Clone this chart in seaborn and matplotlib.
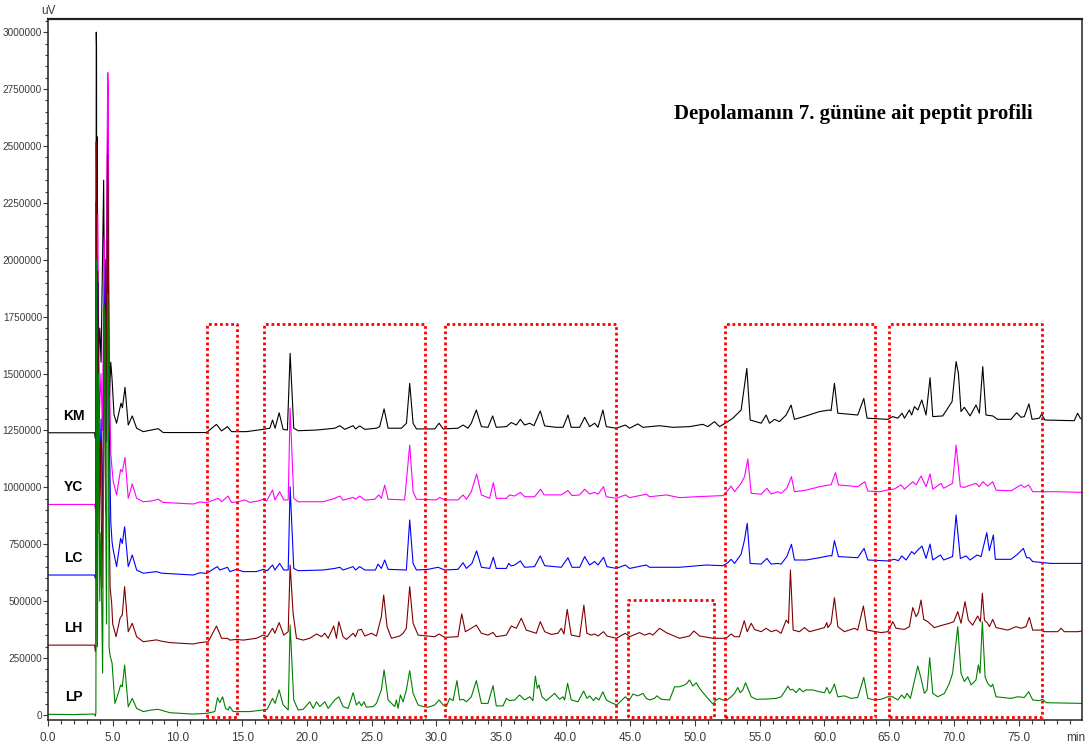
import numpy as np
import pandas as pd
import matplotlib
matplotlib.use("Agg")
import matplotlib.pyplot as plt
from matplotlib import font_manager
from matplotlib.ticker import MultipleLocator, FixedLocator, FixedFormatter
import seaborn as sns

# ---------------------------------------------------------------- data
# retention time (min) / detector signal (x1000 uV) vertices of each trace

km_t = [0, 3.60, 3.66, 3.70, 3.73, 3.75, 3.77, 3.80, 3.84, 4.00, 4.10, 4.30, 4.40, 4.55, 4.62, 4.68, 4.75,
        4.85, 4.95, 5.10, 5.30, 5.64, 5.75, 5.95, 6.20, 6.51, 6.85, 7.36, 8.52, 8.90, 12.25, 13.02, 13.41,
        13.87, 14.18, 15.34, 16.63, 17.14, 17.35, 17.55, 17.86, 18.17, 18.50, 18.71, 18.99, 19.33, 20.75,
        22.16, 22.55, 22.93, 23.58, 23.76, 24.09, 24.48, 25.38, 25.63, 25.97, 26.28, 27.31, 27.70, 27.95,
        28.21, 28.47, 29.88, 30.22, 30.53, 31.68, 32.07, 32.45, 32.71, 33.10, 33.49, 34.00, 34.36, 34.64,
        35.42, 35.80, 36.19, 36.50, 36.83, 37.22, 37.55, 38.04, 38.38, 39.28, 39.80, 40.18, 40.43, 41.08,
        41.47, 41.85, 42.24, 42.50, 42.88, 43.14, 43.91, 44.61, 44.94, 45.58, 45.97, 47.26, 48.29, 49.57,
        50.60, 50.99, 51.50, 51.89, 52.53, 52.92, 53.56, 54.00, 54.26, 55.11, 55.49, 55.75, 56.14, 56.52,
        57.04, 57.42, 57.68, 58.58, 59.61, 60.39, 60.51, 60.77, 61.03, 62.57, 63.04, 63.29, 64.89, 65.28,
        65.66, 66.00, 66.18, 66.56, 66.74, 66.95, 67.21, 67.52, 67.85, 68.16, 68.37, 69.14, 69.86, 70.17,
        70.35, 70.55, 70.81, 71.25, 71.71, 71.97, 72.23, 72.48, 73.00, 73.38, 74.41, 74.85, 75.19, 75.44,
        75.80, 76.04, 76.60, 76.78, 77.04, 79.30, 79.56, 79.77, 79.90]
km_v = [1240, 1240, 1215, 1230, 3000, 2940, 1600, 2540, 1500, 1700, 1550, 2350, 1500, 1900, 2700, 1800, 1400,
        1550, 1476, 1320, 1282, 1370, 1350, 1440, 1274, 1314, 1260, 1245, 1258, 1241, 1241, 1277, 1248,
        1267, 1245, 1245, 1255, 1260, 1296, 1260, 1328, 1255, 1252, 1589, 1260, 1249, 1252,
        1260, 1271, 1255, 1271, 1257, 1270, 1255, 1260, 1267, 1345, 1260, 1260, 1282, 1457,
        1282, 1257, 1257, 1282, 1257, 1260, 1274, 1260, 1282, 1340, 1267, 1264, 1314, 1264,
        1267, 1285, 1274, 1299, 1274, 1282, 1271, 1336, 1270, 1264, 1264, 1318, 1264, 1264,
        1308, 1267, 1282, 1264, 1340, 1267, 1260, 1274, 1260, 1279, 1264, 1271, 1264, 1267,
        1277, 1267, 1289, 1267, 1289, 1304, 1340, 1523, 1296, 1282, 1318, 1282, 1299, 1289,
        1318, 1362, 1299, 1314, 1333, 1340, 1337, 1457, 1326, 1318, 1391, 1304, 1299, 1311,
        1304, 1326, 1304, 1340, 1318, 1355, 1340, 1384, 1318, 1482, 1311, 1314, 1377, 1553,
        1501, 1333, 1352, 1314, 1362, 1326, 1531, 1318, 1314, 1299, 1299, 1328, 1308, 1311,
        1367, 1299, 1304, 1322, 1296, 1293, 1326, 1304, 1300]

yc_t = [0, 3.60, 3.66, 3.70, 3.73, 3.75, 3.78, 3.85, 3.95, 4.10, 4.20, 4.35, 4.45, 4.55, 4.62, 4.66, 4.72,
        4.85, 4.95, 5.04, 5.30, 5.61, 5.74, 5.95, 6.20, 6.51, 6.85, 7.36, 8.00, 8.52, 8.90, 11.22, 11.74,
        12.25, 13.15, 13.41, 13.92, 14.18, 14.70, 15.20, 15.60, 16.37, 16.63, 16.89, 17.35, 17.53, 17.90,
        18.22, 18.56, 18.71, 18.99, 19.33, 21.26, 22.16, 22.55, 22.80, 23.58, 23.76, 24.09, 24.48, 25.25,
        25.56, 25.76, 26.02, 26.28, 27.56, 27.95, 28.21, 28.47, 30.01, 30.27, 30.65, 31.68, 32.07, 32.33,
        32.71, 33.12, 33.49, 34.13, 34.41, 34.64, 35.42, 35.67, 36.06, 36.50, 36.83, 37.60, 38.07, 38.33,
        39.66, 40.18, 40.49, 41.08, 41.47, 41.85, 42.24, 42.50, 42.93, 43.14, 43.91, 44.61, 44.94, 46.23,
        46.49, 47.77, 48.80, 50.09, 52.15, 52.41, 52.79, 53.05, 53.56, 53.82, 54.08, 54.34, 55.11, 55.55,
        55.88, 56.40, 56.65, 57.09, 57.45, 57.68, 58.58, 59.61, 60.39, 60.51, 60.85, 61.08, 62.57, 63.11,
        63.35, 64.25, 64.89, 65.41, 65.92, 66.18, 66.82, 67.08, 67.46, 67.85, 68.16, 68.37, 69.00, 69.21,
        69.52, 69.90, 70.17, 70.50, 70.81, 71.07, 71.71, 71.97, 72.23, 72.61, 73.00, 73.26, 74.41, 75.19,
        75.44, 75.78, 76.09, 78.02, 79.90]
yc_v = [925, 925, 905, 920, 2513, 2300, 1400, 2200, 1300, 1500, 1250, 2100, 1400, 2400, 2822, 2750, 1600,
        1150, 1080, 1025, 967, 1079, 1069, 1132, 952, 1015, 952, 937, 940, 948, 934, 927, 936,
        933, 952, 937, 962, 934, 937, 945, 934, 942, 948, 940, 989, 945, 981,
        945, 945, 1348, 952, 937, 937, 952, 962, 944, 956, 948, 962, 944, 948,
        967, 952, 1010, 948, 945, 1186, 981, 948, 945, 956, 945, 945, 967, 948,
        981, 1059, 967, 952, 1021, 952, 952, 967, 962, 978, 959, 959, 992, 967,
        967, 986, 964, 967, 992, 971, 978, 970, 1003, 959, 952, 967, 955, 970,
        959, 967, 955, 959, 964, 978, 1006, 981, 1018, 1047, 1125, 974, 970, 996,
        971, 981, 974, 996, 1047, 981, 988, 1003, 1011, 1011, 1065, 1011, 1003, 1025,
        984, 981, 989, 993, 1011, 992, 1025, 1011, 1050, 1003, 1059, 992, 1018, 996,
        1006, 1018, 1186, 1003, 1000, 1006, 1018, 1003, 1025, 1006, 1025, 988, 985, 1011,
        1000, 1011, 981, 981, 978]

lc_t = [0, 3.60, 3.66, 3.70, 3.73, 3.75, 3.78, 3.88, 3.98, 4.10, 4.22, 4.35, 4.45, 4.52, 4.62, 4.66, 4.72,
        4.85, 4.95, 5.04, 5.30, 5.61, 5.74, 5.92, 6.20, 6.51, 6.85, 7.36, 8.39, 8.78, 11.22, 11.74, 12.25,
        13.08, 13.28, 13.87, 14.05, 14.57, 15.08, 16.10, 16.63, 16.94, 17.35, 17.53, 17.90, 18.22, 18.56,
        18.71, 18.99, 19.33, 21.26, 22.16, 22.55, 22.80, 23.58, 23.76, 24.09, 24.48, 25.30, 25.50, 25.76,
        26.02, 26.28, 27.69, 27.95, 28.21, 28.47, 29.37, 30.14, 30.65, 31.68, 32.07, 32.33, 32.76, 33.12,
        33.49, 34.13, 34.41, 34.64, 35.42, 35.60, 35.80, 36.06, 36.50, 36.83, 37.60, 38.04, 38.38, 39.66,
        40.18, 40.49, 41.08, 41.47, 41.85, 42.24, 42.50, 42.93, 43.19, 43.91, 44.61, 44.94, 46.23, 46.49,
        48.80, 50.09, 50.86, 52.15, 52.53, 52.79, 53.05, 53.56, 53.82, 54.03, 54.26, 55.11, 55.55, 55.88,
        56.40, 56.65, 57.09, 57.45, 57.68, 58.58, 59.61, 60.39, 60.57, 60.77, 61.08, 62.57, 63.06, 63.35,
        64.89, 65.41, 65.71, 65.97, 66.31, 66.74, 66.95, 67.21, 67.54, 67.85, 68.16, 68.37, 68.96, 69.21,
        69.90, 70.17, 70.50, 70.94, 71.25, 71.79, 72.10, 72.54, 72.74, 73.05, 73.20, 74.41, 74.93, 75.37,
        75.62, 75.83, 76.09, 77.50, 79.90]
lc_v = [615, 615, 600, 610, 2255, 2000, 900, 1900, 1000, 1300, 860, 1700, 2000, 1200, 2220, 2100, 1300,
        850, 760, 725, 652, 776, 754, 827, 652, 703, 637, 623, 630, 623, 615, 625, 622,
        652, 637, 649, 630, 640, 630, 630, 640, 634, 659, 637, 666, 637, 637,
        1003, 644, 634, 637, 644, 649, 637, 652, 637, 652, 637, 637, 663, 644,
        681, 640, 637, 857, 666, 637, 640, 649, 637, 640, 669, 644, 666, 721,
        649, 644, 693, 644, 644, 666, 655, 659, 677, 649, 652, 699, 656, 649,
        691, 649, 649, 696, 659, 674, 659, 693, 652, 644, 659, 644, 659, 649,
        649, 655, 659, 656, 669, 684, 666, 707, 769, 842, 666, 663, 688, 663,
        666, 663, 696, 750, 681, 681, 691, 700, 699, 766, 696, 691, 732, 681,
        677, 684, 678, 699, 681, 718, 707, 725, 742, 688, 751, 681, 703, 681,
        696, 879, 688, 699, 681, 703, 696, 801, 722, 791, 684, 684, 707, 732,
        691, 691, 674, 666, 666]

lh_t = [0, 3.60, 3.66, 3.70, 3.73, 3.75, 3.78, 3.85, 3.95, 4.05, 4.18, 4.35, 4.45, 4.55, 4.60, 4.65, 4.72,
        4.80, 4.92, 5.00, 5.26, 5.57, 5.74, 5.92, 6.20, 6.51, 6.85, 7.36, 8.39, 8.70, 9.42, 11.22, 11.74,
        12.38, 13.02, 13.41, 13.87, 14.05, 14.57, 15.08, 16.10, 16.63, 16.94, 17.35, 17.53, 17.86, 18.22,
        18.56, 18.71, 18.94, 19.20, 19.72, 20.23, 20.75, 21.13, 21.39, 21.65, 22.08, 22.29, 22.47, 22.80,
        23.06, 23.58, 23.76, 23.96, 24.22, 24.48, 24.99, 25.38, 25.76, 25.94, 26.20, 26.54, 27.18, 27.44,
        27.69, 27.95, 28.21, 28.60, 29.88, 30.22, 30.65, 31.68, 31.97, 32.25, 32.71, 33.10, 33.49, 34.00,
        34.39, 34.64, 35.42, 35.80, 36.19, 36.57, 36.96, 37.35, 37.73, 38.04, 38.38, 38.89, 39.40, 39.66,
        39.87, 40.12, 40.43, 41.08, 41.41, 41.64, 41.98, 42.24, 42.50, 42.93, 43.19, 43.91, 44.61, 44.94,
        45.71, 46.10, 46.49, 46.74, 47.26, 47.77, 48.80, 49.57, 49.91, 50.35, 51.38, 52.41, 52.79, 53.05,
        53.43, 53.80, 54.03, 54.34, 54.59, 55.11, 55.49, 55.88, 56.27, 56.65, 57.04, 57.22, 57.37, 57.58,
        58.07, 58.45, 58.84, 60.00, 60.18, 60.26, 60.51, 60.77, 61.03, 61.54, 62.32, 62.57, 63.01, 63.29,
        64.38, 64.89, 65.28, 65.53, 66.18, 66.56, 66.82, 67.08, 67.26, 67.46, 67.67, 67.98, 68.49, 69.14,
        69.65, 69.99, 70.30, 70.55, 70.86, 71.12, 71.45, 71.84, 72.05, 72.20, 72.36, 72.61, 72.74, 73.00,
        73.26, 74.16, 74.80, 75.19, 75.57, 75.83, 76.09, 76.73, 76.99, 78.02, 78.28, 78.53, 79.56, 79.90]
lh_v = [307, 307, 280, 300, 2520, 2400, 700, 1950, 800, 1200, 560, 1800, 900, 2000, 2460, 2300, 900,
        560, 491, 400, 344, 426, 440, 564, 366, 403, 344, 322, 330, 325, 318, 312, 318,
        322, 391, 337, 337, 329, 332, 329, 337, 351, 344, 381, 359, 406, 351,
        366, 659, 447, 337, 329, 337, 356, 344, 359, 337, 391, 337, 410, 344,
        332, 359, 344, 373, 376, 347, 359, 347, 432, 527, 388, 337, 347, 359,
        381, 564, 403, 351, 344, 356, 341, 344, 444, 366, 381, 395, 359, 351,
        363, 344, 351, 391, 381, 425, 373, 366, 359, 410, 366, 354, 359, 381,
        356, 464, 351, 344, 483, 359, 351, 356, 347, 366, 347, 337, 359, 344,
        362, 351, 359, 351, 381, 362, 337, 347, 369, 347, 337, 337, 356, 344,
        344, 414, 366, 403, 376, 366, 381, 366, 373, 359, 417, 403, 637, 373,
        366, 384, 366, 384, 406, 384, 403, 515, 388, 366, 381, 373, 479, 373,
        362, 366, 410, 381, 376, 388, 472, 432, 450, 505, 420, 410, 384, 395,
        403, 410, 454, 403, 498, 417, 395, 435, 410, 535, 417, 403, 388, 420,
        384, 373, 388, 381, 388, 429, 373, 373, 366, 366, 381, 366, 366, 369]

lp_t = [0, 2.00, 3.55, 3.62, 3.66, 3.70, 3.75, 3.78, 3.82, 3.90, 4.00, 4.08, 4.22, 4.35, 4.45, 4.52, 4.60,
        4.66, 4.72, 4.80, 4.95, 5.17, 5.43, 5.61, 5.74, 5.92, 6.20, 6.51, 6.85, 7.36, 8.00, 8.52, 9.42,
        11.22, 12.25, 12.89, 13.10, 13.28, 13.49, 13.72, 13.92, 14.05, 14.31, 15.60, 16.63, 16.94, 17.35,
        17.55, 17.86, 18.17, 18.56, 18.71, 18.99, 19.33, 19.72, 20.23, 20.49, 20.75, 21.00, 21.39, 21.65,
        22.16, 22.47, 22.80, 23.19, 23.58, 23.83, 24.04, 24.22, 24.42, 24.60, 25.12, 25.38, 25.76, 25.97,
        26.28, 26.79, 26.92, 27.05, 27.23, 27.44, 27.69, 27.95, 28.21, 28.60, 28.98, 29.37, 29.88, 30.22,
        30.53, 30.78, 31.04, 31.30, 31.60, 31.81, 32.07, 32.33, 32.71, 33.10, 33.49, 34.00, 34.39, 34.64,
        35.16, 35.42, 35.67, 36.06, 36.44, 36.83, 37.22, 37.47, 37.66, 37.81, 37.94, 38.17, 38.50, 39.15,
        39.53, 39.79, 39.92, 40.15, 40.43, 40.95, 41.39, 41.65, 41.85, 42.16, 42.32, 42.57, 42.88, 43.14,
        43.65, 43.96, 44.30, 44.61, 44.89, 45.20, 45.58, 45.97, 46.23, 46.49, 46.87, 47.05, 47.39, 48.03,
        48.42, 48.80, 49.19, 49.37, 49.57, 49.83, 50.09, 50.35, 50.66, 50.99, 51.38, 51.63, 51.89, 52.15,
        52.41, 52.79, 53.05, 53.30, 53.49, 53.69, 53.90, 54.08, 54.34, 54.72, 55.49, 56.27, 56.65, 56.91,
        57.17, 57.35, 57.55, 57.81, 58.07, 58.33, 58.58, 59.10, 59.61, 60.00, 60.18, 60.39, 60.51, 60.77,
        61.03, 61.54, 62.06, 62.57, 63.04, 63.35, 63.86, 64.38, 64.89, 65.28, 65.66, 65.97, 66.18, 66.38,
        66.64, 67.21, 67.46, 67.72, 67.93, 68.13, 68.37, 68.75, 69.27, 69.65, 69.90, 70.30, 70.55, 70.81,
        71.07, 71.33, 71.71, 71.89, 72.02, 72.20, 72.41, 72.61, 72.87, 73.00, 73.26, 74.41, 74.93, 75.44,
        75.78, 76.09, 76.60, 76.86, 77.12, 79.90]
lp_v = [3, 2, 4, 2, -5, 10, 2000, 1700, 300, 1500, 500, 800, 184, 1800, 1000, 400, 1850,
        1700, 300, 260, 228, 51, 95, 132, 124, 220, 36, 73, 29, 15, 22, 25, 10,
        4, 7, 15, 76, 54, 80, 29, 22, 37, 15, 15, 22, 25, 73,
        51, 110, 44, 22, 395, 66, 22, 25, 58, 29, 58, 37, 58, 29,
        66, 80, 37, 29, 98, 44, 58, 40, 58, 34, 37, 51, 110, 198,
        66, 37, 66, 29, 88, 58, 110, 195, 95, 44, 37, 34, 44, 66,
        44, 37, 73, 63, 151, 66, 69, 58, 80, 151, 51, 51, 129, 40,
        40, 73, 63, 66, 88, 66, 80, 63, 171, 117, 132, 80, 63, 95,
        69, 80, 66, 139, 66, 58, 105, 73, 84, 63, 77, 66, 102, 66,
        51, 44, 63, 80, 63, 92, 84, 95, 73, 66, 73, 84, 69, 66,
        124, 124, 132, 139, 154, 127, 142, 117, 95, 73, 48, 66, 73, 66,
        63, 80, 95, 121, 98, 110, 142, 117, 80, 69, 70, 73, 80, 102,
        127, 110, 113, 98, 117, 102, 110, 110, 102, 98, 121, 95, 103, 136,
        80, 84, 73, 77, 165, 73, 66, 69, 80, 80, 66, 88, 73, 95,
        73, 215, 161, 95, 110, 252, 95, 80, 95, 139, 183, 388, 183, 147,
        168, 132, 154, 220, 183, 410, 168, 139, 124, 135, 80, 73, 80, 77,
        102, 66, 63, 69, 54, 51]

samples = ["KM", "YC", "LC", "LH", "LP"]
times = [km_t, yc_t, lc_t, lh_t, lp_t]
signals = [km_v, yc_v, lc_v, lh_v, lp_v]
colors = ["#000000", "#ff00ff", "#0000ff", "#800000", "#008000"]

# highlighted retention windows: (start, end, upper signal)
windows = [(12.3, 14.6, 1717000), (16.7, 29.1, 1717000), (30.7, 43.9, 1717000),
           (44.8, 51.5, 505000), (52.3, 63.9, 1717000), (65.0, 76.8, 1717000)]

title = "Depolamanın 7. gününe ait peptit profili"

# ---------------------------------------------------------------- fonts
available = {f.name for f in font_manager.fontManager.ttflist}


def pick(*names):
    for n in names:
        if n in available:
            return n
    return "DejaVu Sans"


narrow = pick("Liberation Sans Narrow", "Liberation Sans", "DejaVu Sans")
label_font = pick("Liberation Sans Narrow", "Liberation Sans")
serif = pick("Liberation Serif", "DejaVu Serif")

sns.set_theme(style="white")
plt.rcParams["font.family"] = [narrow, "DejaVu Sans"]

# ---------------------------------------------------------------- frame
rows = []
for name, t, v in zip(samples, times, signals):
    for tt, vv in zip(t, v):
        rows.append((name, tt, vv * 1000.0))
df = pd.DataFrame(rows, columns=["sample", "time", "signal"])

W, H = 1089, 749
fig = plt.figure(figsize=(W / 100, H / 100), dpi=100)
ax = fig.add_axes([48 / W, 1 - 720 / H, (1082 - 48) / W, (720 - 19) / H])

sns.lineplot(data=df, x="time", y="signal", hue="sample", hue_order=samples,
             palette=dict(zip(samples, colors)), estimator=None, sort=False,
             legend=False, linewidth=0.8, ax=ax)

# dotted windows
for t0, t1, top in windows:
    ax.plot([t0, t0, t1, t1, t0], [-7000, top, top, -7000, -7000], color="#ff0000",
            linestyle=(0, (1, 1)), linewidth=2.0, zorder=5)

# sample names above each trace start
for name, v in zip(samples, signals):
    ax.text(1.97, (v[0] + 75) * 1000, name, ha="center", va="center",
            fontsize=10, fontweight="bold", family=[label_font, "DejaVu Sans"], color="black")

ax.set_xlim(0, 79.9)
ax.set_ylim(-22000, 3058000)
ax.set_xlabel("")
ax.set_ylabel("")

yt = np.arange(0, 3000001, 250000)
ax.yaxis.set_major_locator(FixedLocator(yt))
ax.yaxis.set_major_formatter(FixedFormatter([str(int(v)) for v in yt]))
ax.yaxis.set_minor_locator(MultipleLocator(50000))
xt = np.arange(0, 80, 5)
ax.xaxis.set_major_locator(FixedLocator(xt))
ax.xaxis.set_major_formatter(FixedFormatter([f"{v:.1f}" for v in xt]))
ax.xaxis.set_minor_locator(MultipleLocator(1))

tick_col = "#3a3a3a"
ax.tick_params(axis="y", which="major", direction="out", length=3.8, width=0.8, pad=0.5,
               labelsize=7.2, colors=tick_col, left=True)
ax.tick_params(axis="y", which="minor", direction="out", length=2.0, width=0.8, left=True,
               colors=tick_col)
ax.tick_params(axis="x", which="major", direction="out", length=4.5, width=0.8, pad=4,
               labelsize=8.5, colors=tick_col, bottom=True)
ax.tick_params(axis="x", which="minor", direction="out", length=2.8, width=0.8, bottom=True,
               colors=tick_col)

for side, sp in ax.spines.items():
    sp.set_visible(True)
    sp.set_color("#222222")
    sp.set_linewidth(1.1)
ax.spines["top"].set_linewidth(1.6)

fig.text(48 / W, 1 - 11 / H, "uV", ha="center", va="center", fontsize=8.5, color=tick_col)
fig.text(1076 / W, 1 - 738 / H, "min", ha="center", va="center", fontsize=8.5, color=tick_col)
fig.text(853.5 / W, 1 - 114 / H, title, ha="center", va="center", fontsize=15,
         fontweight="bold", family=[serif, "DejaVu Serif"], color="black")

fig.savefig("out.png", dpi=100, facecolor="white")
